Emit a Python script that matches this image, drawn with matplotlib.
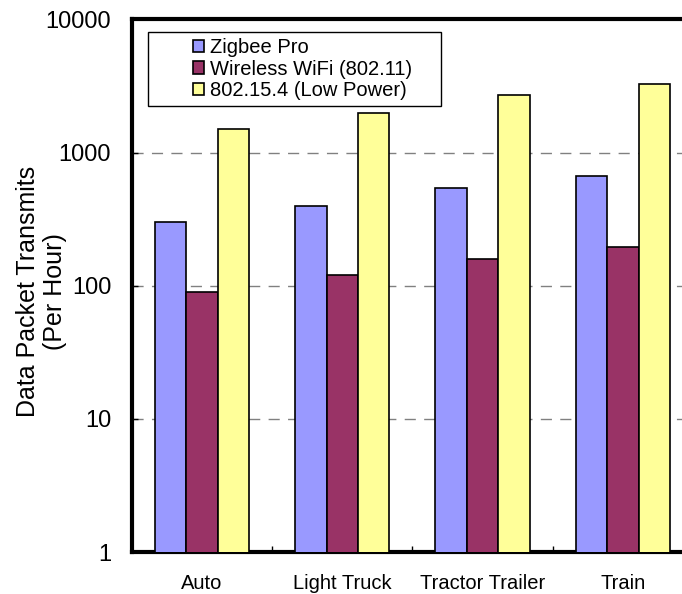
import numpy as np
import matplotlib
matplotlib.use("Agg")
import matplotlib.pyplot as plt
from matplotlib.patches import Rectangle
from matplotlib.ticker import FixedLocator, NullLocator

plt.rcParams['font.family'] = ['Liberation Sans', 'DejaVu Sans']

categories = ['Auto', 'Light Truck', 'Tractor Trailer', 'Train']
series_names = ['Zigbee Pro', 'Wireless WiFi (802.11)', '802.15.4 (Low Power)']
zigbee = [300, 400, 540, 670]
wifi = [90, 120, 160, 196]
lowpower = [1500, 2000, 2700, 3300]
colors = ['#9999FF', '#993366', '#FFFF99']
y_ticks = [1, 10, 100, 1000, 10000]

fig = plt.figure(figsize=(6.82, 5.94), dpi=100)
# plot area runs a bit past the right edge of the picture, like the original
ax = fig.add_axes([0.1935, 0.0707, 0.8226, 0.8965])

x = np.arange(len(categories))
width = 0.224
for i, (vals, name, col) in enumerate(zip([zigbee, wifi, lowpower], series_names, colors)):
    ax.bar(x + (i - 1) * width, vals, width, color=col, edgecolor='black',
           linewidth=1.2, label=name, zorder=3)

ax.set_yscale('log')
ax.set_ylim(1, 10000)
ax.set_xlim(-0.5, len(categories) - 0.5)
ax.yaxis.set_major_locator(FixedLocator(y_ticks))
ax.yaxis.set_minor_locator(NullLocator())
ax.set_yticklabels([str(v) for v in y_ticks])
ax.set_xticks(x)
ax.set_xticklabels(categories)
ax.set_xticks(x[:-1] + 0.5, minor=True)

ax.tick_params(axis='y', which='major', direction='in', length=4, width=1,
               labelsize=17, pad=15)
ax.tick_params(axis='x', which='major', length=0, labelsize=14.5, pad=16)
ax.tick_params(axis='x', which='minor', direction='in', length=4, width=1)

for gv in y_ticks[1:-1]:
    ax.axhline(gv, color='#808080', linestyle=(0, (8, 6)), linewidth=1.0, zorder=1)

for s in ['top', 'left', 'bottom']:
    ax.spines[s].set_linewidth(3)
ax.spines['right'].set_visible(False)

ax.set_ylabel('Data Packet Transmits\n(Per Hour)', fontsize=18)
ax.yaxis.set_label_coords(-0.115, 0.49)

fig.patches.append(Rectangle((148 / 682, 1 - 106 / 594), 293 / 682, 74 / 594,
                             transform=fig.transFigure, fill=False,
                             edgecolor='black', linewidth=1.0))
ax.legend(loc='upper left', bbox_to_anchor=(183 / 682, 1 - 28 / 594),
          bbox_transform=fig.transFigure, frameon=False, fontsize=14.5,
          borderpad=0, labelspacing=0.13, handlelength=0.55, handleheight=0.55,
          handletextpad=0.3)

fig.savefig('out.png', dpi=100)
